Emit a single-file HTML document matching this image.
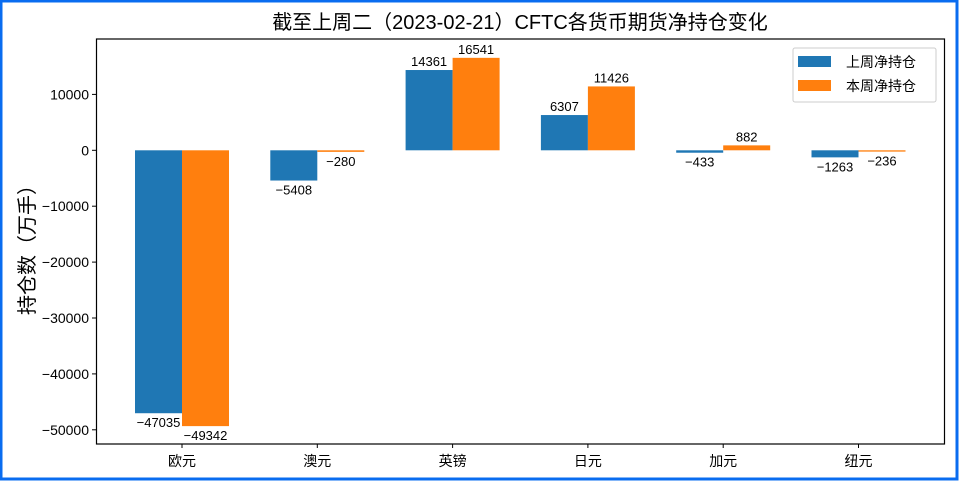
<!DOCTYPE html>
<html><head><meta charset="utf-8"><style>
body{margin:0;background:#fff;}
svg text{font-family:"Liberation Sans","Noto Sans CJK SC",sans-serif;}
</style></head><body>
<svg width="960" height="482" viewBox="0 0 960 482">
<rect x="1" y="1" width="956" height="478" fill="#fff" stroke="#0a6cf0" stroke-width="3"/>
<text x="520" y="29" font-size="20" text-anchor="middle">截至上周二（2023-02-21）CFTC各货币期货净持仓变化</text>
<text transform="translate(34,245) rotate(-90)" font-size="20" text-anchor="middle">持仓数（万手）</text>
<g id="plot"></g>
<rect x="96.5" y="39" width="848" height="405" fill="none" stroke="#000" stroke-width="1.2"/>
<g>
<rect x="793" y="48" width="143" height="54" fill="#fff" stroke="#ccc" rx="2"/>
<rect x="798" y="56" width="33" height="11" fill="#1f77b4"/>
<text x="846" y="67" font-size="14">上周净持仓</text>
<rect x="798" y="80" width="33" height="11" fill="#ff7f0e"/>
<text x="846" y="91" font-size="14">本周净持仓</text>
</g>
</svg>
<script>
const categories=["欧元","澳元","英镑","日元","加元","纽元"];
const lastWeek=[-47035,-5408,14361,6307,-433,-1263];
const thisWeek=[-49342,-280,16541,11426,882,-236];
const yTicks=[10000,0,-10000,-20000,-30000,-40000,-50000];
const NS="http://www.w3.org/2000/svg";
const g=document.getElementById("plot");
const y0=150.3,k=0.00559;
function yScale(v){return y0-v*k;}
function xCenter(i){return 182+135.3*i;}
const bw=47;
function mk(tag,attrs){const e=document.createElementNS(NS,tag);for(const a in attrs)e.setAttribute(a,attrs[a]);g.appendChild(e);return e;}
yTicks.forEach(t=>{
 const y=yScale(t);
 const l=mk("line",{x1:92,x2:96.5,y1:y,y2:y,stroke:"#000"});
 
 
 const tx=mk("text",{x:89,y:y+5,"font-size":14,"text-anchor":"end"});
 tx.textContent=String(t).replace("-","−");
 
 
});
categories.forEach((c,i)=>{
 const cx=xCenter(i);
 const l=mk("line",{x1:cx,x2:cx,y1:444,y2:448,stroke:"#000"});
 
 
 const tx=mk("text",{x:cx,y:466,"font-size":14,"text-anchor":"middle"});
 tx.textContent=c;
 
 
 [[lastWeek[i],cx-bw,"#1f77b4","last"],[thisWeek[i],cx,"#ff7f0e","this"]].forEach(([v,x,col,s])=>{
  const ya=yScale(v),yb=yScale(0);
  const r=mk("rect",{x:x,y:Math.min(ya,yb),width:bw,height:Math.abs(ya-yb),fill:col});
  
  
  const t=mk("text",{x:x+bw/2,y:v>=0?ya-4:ya+14,"font-size":13,"text-anchor":"middle"});
  t.textContent=String(v).replace("-","−");
  
  
 });
});
</script>
</body></html>
